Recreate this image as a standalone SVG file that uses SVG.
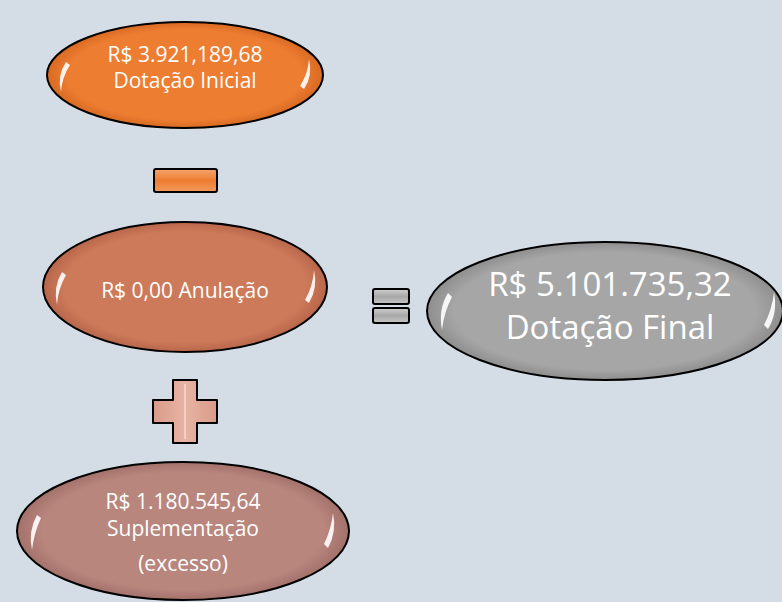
<svg xmlns="http://www.w3.org/2000/svg" width="782" height="602" viewBox="0 0 782 602">
<defs>
<style>
.t{font-family:"Open Sans","Noto Sans",sans-serif;fill:#ffffff;text-anchor:middle}
.s{font-size:21px}
.b{font-size:33px}
.edge{stroke:#000;stroke-width:2}
.glint{fill:#ffffff;opacity:0.9}
</style>
<radialGradient id="gO" cx="50%" cy="50%" r="50%"><stop offset="0.85" stop-color="#ED7D31"/><stop offset="1" stop-color="#d86a22"/></radialGradient>
<radialGradient id="gA" cx="50%" cy="50%" r="50%"><stop offset="0.85" stop-color="#CD7A5A"/><stop offset="1" stop-color="#b8664a"/></radialGradient>
<radialGradient id="gS" cx="50%" cy="50%" r="50%"><stop offset="0.85" stop-color="#B9867E"/><stop offset="1" stop-color="#a2716a"/></radialGradient>
<radialGradient id="gG" cx="50%" cy="50%" r="50%"><stop offset="0.85" stop-color="#A6A6A6"/><stop offset="1" stop-color="#8e8e8e"/></radialGradient>
<linearGradient id="mO" x1="0" y1="0" x2="0" y2="1"><stop offset="0" stop-color="#f7a46e"/><stop offset="0.5" stop-color="#ED7D31"/><stop offset="1" stop-color="#f39a5e"/></linearGradient>
<linearGradient id="mG" x1="0" y1="0" x2="0" y2="1"><stop offset="0" stop-color="#d0d0d0"/><stop offset="0.5" stop-color="#a8a8a8"/><stop offset="1" stop-color="#c6c6c6"/></linearGradient>
<linearGradient id="mP" x1="0" y1="0" x2="1" y2="0"><stop offset="0" stop-color="#d99a88"/><stop offset="0.5" stop-color="#e8b4a4"/><stop offset="1" stop-color="#d99a88"/></linearGradient>
</defs>
<rect width="782" height="602" fill="#D4DDE5"/>

<g id="dotacao-inicial">
<ellipse cx="185" cy="75" rx="138" ry="53" fill="url(#gO)" class="edge"/>
<path class="glint" d="M66 62 Q57 75 61 92 Q62 77 70 65 Z"/>
<path class="glint" d="M304 89 Q313 76 309 59 Q308 74 300 86 Z"/>
<text class="t s" x="185" y="62">R$ 3.921,189,68</text>
<text class="t s" x="185" y="88">Dotação Inicial</text>
</g>

<g id="minus">
<rect x="154" y="169" width="63" height="23" rx="2" fill="url(#mO)" class="edge" stroke-width="2.5"/>
</g>

<g id="anulacao">
<ellipse cx="185" cy="287" rx="142" ry="65" fill="url(#gA)" class="edge"/>
<path class="glint" d="M62 272 Q53 287 57 305 Q58 289 66 275 Z"/>
<path class="glint" d="M309 303 Q318 288 314 270 Q313 286 305 300 Z"/>
<text class="t s" x="185" y="298">R$ 0,00 Anulação</text>
</g>

<g id="equals">
<rect x="373" y="289" width="36" height="15" rx="2" fill="url(#mG)" class="edge" stroke-width="2.5"/>
<rect x="373" y="308" width="36" height="15" rx="2" fill="url(#mG)" class="edge" stroke-width="2.5"/>
</g>

<g id="dotacao-final">
<ellipse cx="605" cy="311" rx="178" ry="69" fill="url(#gG)" class="edge"/>
<path class="glint" d="M448 293 Q438 309 442 330 Q444 312 452 297 Z"/>
<path class="glint" d="M768 329 Q778 313 774 292 Q772 310 764 325 Z"/>
<text class="t b" x="610" y="296">R$ 5.101.735,32</text>
<text class="t b" x="610" y="339">Dotação Final</text>
</g>

<g id="plus">
<path d="M173 380 H197 V400 H217 V423 H197 V443 H173 V423 H153 V400 H173 Z" fill="url(#mP)" class="edge" stroke-width="2.5" stroke-linejoin="round"/>
<path d="M185 384 V439" stroke="#f6d8cc" stroke-width="2" opacity="0.8"/>
</g>

<g id="suplementacao">
<ellipse cx="183" cy="531" rx="166" ry="69" fill="url(#gS)" class="edge"/>
<path class="glint" d="M37 515 Q28 531 32 550 Q34 533 41 518 Z"/>
<path class="glint" d="M328 548 Q337 532 333 513 Q331 530 324 544 Z"/>
<text class="t s" x="183" y="509">R$ 1.180.545,64</text>
<text class="t s" x="183" y="536">Suplementação</text>
<text class="t s" x="183" y="571">(excesso)</text>
</g>
</svg>
